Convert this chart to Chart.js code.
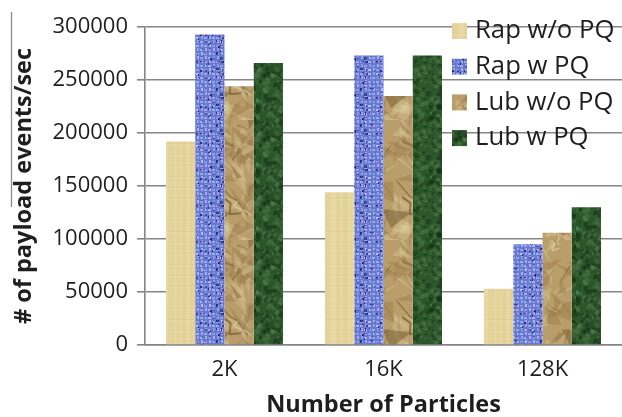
<!DOCTYPE html>
<html>
<head>
<meta charset="utf-8">
<script src="https://cdn.jsdelivr.net/npm/chart.js@4.4.1/dist/chart.umd.min.js"></script>
<style>
  html, body { margin: 0; padding: 0; background: #fff; overflow: hidden; }
  #wrap { width: 622px; height: 417px; position: relative; }
</style>
</head>
<body>
<div id="wrap"><canvas id="c" width="622" height="417"></canvas></div>
<script>
// Throughput (payload events per second) by particle count
const categories = ['2K', '16K', '128K'];
const seriesNames = ['Rap w/o PQ', 'Rap w PQ', 'Lub w/o PQ', 'Lub w PQ'];
const rapWithoutPQ = [192000, 144000, 53000];
const rapWithPQ = [293000, 273000, 95000];
const lubWithoutPQ = [244000, 235000, 106000];
const lubWithPQ = [266000, 273000, 130000];
const yTickValues = [0, 50000, 100000, 150000, 200000, 250000, 300000];

// --- fill textures (deterministic, purely decorative) ---
function makeRng(seed) {
  let s = seed >>> 0;
  return () => { s = (Math.imul(s, 1664525) + 1013904223) >>> 0; return s / 4294967296; };
}
function tile(w, h, paint) {
  const cv = document.createElement('canvas');
  cv.width = w; cv.height = h;
  const g = cv.getContext('2d');
  paint(g, w, h);
  return cv;
}
const ctx = document.getElementById('c').getContext('2d');

// papyrus
const papyrusTile = tile(64, 66, (g, w, h) => {
  const r = makeRng(11);
  g.fillStyle = '#e6d69d'; g.fillRect(0, 0, w, h);
  for (let x = 0; x < w; x += 2) {
    g.fillStyle = r() < 0.5 ? 'rgba(208,190,128,' + (0.05 + r() * 0.1) + ')' : 'rgba(246,236,194,' + (0.08 + r() * 0.14) + ')';
    g.fillRect(x, 0, 2 + (r() * 2 | 0), h);
  }
  for (let y = 0; y < h; y += 11) {
    g.fillStyle = 'rgba(198,178,116,0.18)';
    g.fillRect(0, y, w, 1);
    g.fillStyle = 'rgba(250,242,205,0.2)';
    g.fillRect(0, y + 1, w, 1);
  }
});

// blue woven mesh
const meshTile = tile(36, 36, (g, w, h) => {
  const r = makeRng(23);
  g.fillStyle = '#6878cf'; g.fillRect(0, 0, w, h);
  const c = 4;
  for (let i = 0; i < w / c; i++) {
    for (let j = 0; j < h / c; j++) {
      g.fillStyle = 'rgba(' + (150 + r() * 50 | 0) + ',' + (165 + r() * 45 | 0) + ',245,' + (0.55 + r() * 0.35) + ')';
      if ((i + j) % 2 === 0) g.fillRect(i * c, j * c + 1, c - 1, 2);
      else g.fillRect(i * c + 1, j * c, 2, c - 1);
      if (r() < 0.6) {
        g.fillStyle = 'rgba(28,36,112,' + (0.55 + r() * 0.35) + ')';
        g.fillRect(i * c + (r() * 3 | 0), j * c + (r() * 3 | 0), 1 + (r() * 2.5 | 0), 1 + (r() * 2.5 | 0));
      }
    }
  }
});

// crumpled brown paper
const paperTile = tile(90, 120, (g, w, h) => {
  const r = makeRng(37);
  g.fillStyle = '#b99d6a'; g.fillRect(0, 0, w, h);
  for (let k = 0; k < 110; k++) {
    const x = r() * w, y = r() * h;
    const t = r();
    g.fillStyle = t < 0.45 ? 'rgba(222,204,156,0.38)' : (t < 0.85 ? 'rgba(150,118,72,0.38)' : 'rgba(105,80,44,0.42)');
    g.beginPath();
    g.moveTo(x, y);
    g.lineTo(x + (r() - 0.5) * 40, y + (r() - 0.5) * 40);
    g.lineTo(x + (r() - 0.5) * 40, y + (r() - 0.5) * 40);
    g.closePath(); g.fill();
  }
  g.lineCap = 'round';
  g.lineJoin = 'round';
  for (let k = 0; k < 10; k++) {
    let x = r() * w, y = r() * h;
    g.strokeStyle = r() < 0.65 ? 'rgba(92,68,34,0.5)' : 'rgba(238,222,180,0.5)';
    g.lineWidth = 1 + r() * 1.2;
    g.beginPath(); g.moveTo(x, y);
    for (let s = 0; s < 3; s++) { x += (r() - 0.3) * 20; y += (r() - 0.2) * 22; g.lineTo(x, y); }
    g.stroke();
  }
});

// dark green marble
const marbleTile = tile(64, 64, (g, w, h) => {
  const r = makeRng(51);
  g.fillStyle = '#2b552b'; g.fillRect(0, 0, w, h);
  for (let k = 0; k < 320; k++) {
    const t = r();
    g.fillStyle = t < 0.45 ? 'rgba(78,122,70,0.4)' : (t < 0.85 ? 'rgba(20,46,20,0.45)' : 'rgba(110,150,100,0.35)');
    const s = 0.8 + r() * 2.2;
    g.beginPath(); g.arc(r() * w, r() * h, s, 0, Math.PI * 2); g.fill();
  }
});

const fills = [papyrusTile, meshTile, paperTile, marbleTile].map(t => ctx.createPattern(t, 'repeat'));
const seriesValues = [rapWithoutPQ, rapWithPQ, lubWithoutPQ, lubWithPQ];

const FONT = '"Open Sans", "DejaVu Sans", sans-serif';
const TEXT = '#1e1e1e';
const GRID = '#858585';

// legend sitting over the top-right of the plot
const overlayLegend = {
  id: 'overlayLegend',
  afterDatasetsDraw(chart) {
    const g = chart.ctx;
    g.save();
    g.font = '25.7px ' + FONT;
    g.textBaseline = 'middle';
    g.textAlign = 'left';
    chart.data.datasets.forEach((ds, i) => {
      const cy = 31 + i * 35.7;
      g.fillStyle = ds.backgroundColor;
      g.fillRect(452, cy - 8, 15, 16);
      g.fillStyle = TEXT;
      g.fillText(ds.label, 475, cy);
    });
    g.restore();
  }
};

// thin rule beside the axis title
const sideRule = {
  id: 'sideRule',
  afterDraw(chart) {
    const g = chart.ctx;
    g.save();
    g.strokeStyle = '#8a8a8a';
    g.lineWidth = 1.3;
    g.beginPath(); g.moveTo(11.5, 12); g.lineTo(11.5, 207); g.stroke();
    g.restore();
  }
};

new Chart(ctx, {
  type: 'bar',
  data: {
    labels: categories,
    datasets: seriesNames.map((name, i) => ({
      label: name,
      data: seriesValues[i],
      backgroundColor: fills[i],
      borderWidth: 0,
      barPercentage: 1.0,
      categoryPercentage: 0.736
    }))
  },
  options: {
    responsive: false,
    devicePixelRatio: 1,
    animation: false,
    layout: { padding: { top: 27, left: 0, right: 0, bottom: 0 } },
    plugins: { legend: { display: false }, tooltip: { enabled: false } },
    scales: {
      x: {
        grid: { display: false, drawTicks: false },
        border: { display: true, color: GRID, width: 1.6 },
        ticks: { font: { family: FONT, size: 22 }, color: TEXT, padding: 12 },
        title: {
          display: true, text: 'Number of Particles',
          font: { family: FONT, size: 23.5, weight: 'bold', lineHeight: 1.0 },
          color: TEXT, padding: { top: 0, bottom: 0 }
        },
        afterFit(scale) { scale.height = 72; }
      },
      y: {
        min: 0, max: 300000,
        afterBuildTicks(scale) { scale.ticks = yTickValues.map(v => ({ value: v })); },
        grid: { color: GRID, lineWidth: 1.6, tickLength: 8, drawTicks: true },
        border: { display: true, color: GRID, width: 1.6 },
        ticks: { font: { family: FONT, size: 22 }, color: TEXT, padding: 9, callback: v => String(v) },
        title: {
          display: true, text: '# of payload events/sec',
          font: { family: FONT, size: 23.5, weight: 'bold', lineHeight: 1.05 },
          color: TEXT, padding: { top: 12, bottom: 0 }
        },
        afterFit(scale) { scale.width = 145; }
      }
    }
  },
  plugins: [overlayLegend, sideRule]
});
</script>
</body>
</html>
